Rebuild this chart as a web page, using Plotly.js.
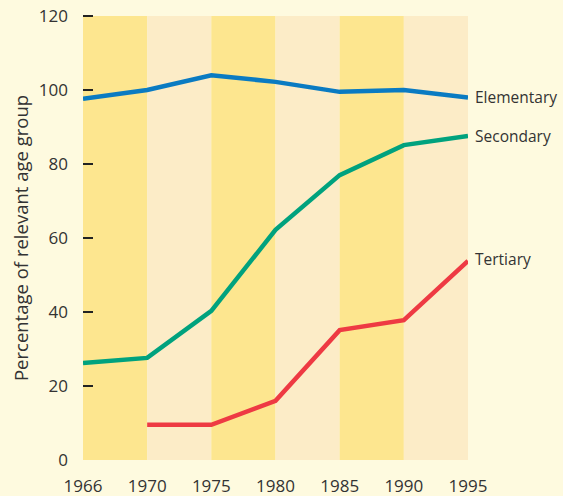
<!DOCTYPE html>
<html>
<head>
<meta charset="utf-8">
<script src="https://cdn.plot.ly/plotly-3.0.1.min.js"></script>
<style>html,body{margin:0;padding:0;background:#fefadf;}</style>
</head>
<body>
<div id="chart" style="width:563px;height:496px;"></div>
<script>
const years = ['1966', '1970', '1975', '1980', '1985', '1990', '1995'];
const elementary = [97.6, 100, 104, 102.2, 99.5, 100, 98];
const secondary = [26.2, 27.6, 40.3, 62.2, 77, 85.1, 87.6];
const tertiaryYears = ['1970', '1975', '1980', '1985', '1990', '1995'];
const tertiary = [9.5, 9.5, 16, 35.1, 37.8, 53.8];
const seriesNames = ['Elementary', 'Secondary', 'Tertiary'];
const yTicks = [0, 20, 40, 60, 80, 100, 120];
const yMarkTicks = [20, 40, 60, 80, 100, 120];

const colors = ['#0a7bc2', '#00a27e', '#ee3a43'];
const font = "'Open Sans', 'Noto Sans', sans-serif";

const traces = [
  {x: years, y: elementary, name: seriesNames[0]},
  {x: years, y: secondary, name: seriesNames[1]},
  {x: tertiaryYears, y: tertiary, name: seriesNames[2]}
].map((t, i) => Object.assign(t, {
  type: 'scatter', mode: 'lines',
  line: {color: colors[i], width: 4.5},
  hoverinfo: 'x+y'
}));
// empty helper trace so the tick-mark axis is drawn
traces.push({x: [], y: [], yaxis: 'y2', type: 'scatter', mode: 'lines', showlegend: false, hoverinfo: 'skip'});

const shapes = [];
for (let i = 0; i < years.length - 1; i++) {
  shapes.push({
    type: 'rect', xref: 'x', yref: 'paper', layer: 'below',
    x0: i, x1: i + 1, y0: 0, y1: 1,
    fillcolor: i % 2 === 0 ? '#fde68f' : '#fcecc7',
    line: {width: 0}
  });
}

const lastVals = [elementary[elementary.length - 1], secondary[secondary.length - 1], tertiary[tertiary.length - 1]];
const annotations = seriesNames.map((n, i) => ({
  x: years.length - 1, y: lastVals[i], xref: 'x', yref: 'y',
  text: n, showarrow: false, xanchor: 'left', yanchor: 'middle',
  xshift: 5, yshift: i === 2 ? 2 : 0,
  font: {family: font, size: 15.5, color: '#333333'}
}));

const layout = {
  width: 563, height: 496,
  margin: {l: 83, r: 95, t: 16, b: 36},
  paper_bgcolor: '#fefadf',
  plot_bgcolor: '#fefadf',
  showlegend: false,
  font: {family: font, color: '#333333'},
  xaxis: {
    type: 'category', range: [0, 6],
    showgrid: false, zeroline: false, showline: false,
    ticks: '', tickfont: {family: font, size: 17, color: '#333333'},
    ticklabelstandoff: 14
  },
  yaxis: {
    range: [0, 120], tickvals: yTicks,
    showgrid: false, zeroline: false, showline: false,
    ticks: '',
    tickfont: {family: font, size: 17, color: '#333333'},
    ticklabelstandoff: 14,
    title: {text: 'Percentage of relevant age group', font: {family: font, size: 18.5, color: '#333333'}, standoff: 5}
  },
  yaxis2: {
    overlaying: 'y', anchor: 'free', side: 'left', position: 10 / 385,
    range: [0, 120], tickvals: yMarkTicks,
    showgrid: false, zeroline: false, showline: false, showticklabels: false,
    layer: 'above traces',
    ticks: 'outside', ticklen: 10, tickwidth: 1.5, tickcolor: '#222222'
  },
  shapes: shapes,
  annotations: annotations
};

Plotly.newPlot('chart', traces, layout, {displayModeBar: false, staticPlot: true});
</script>
</body>
</html>
